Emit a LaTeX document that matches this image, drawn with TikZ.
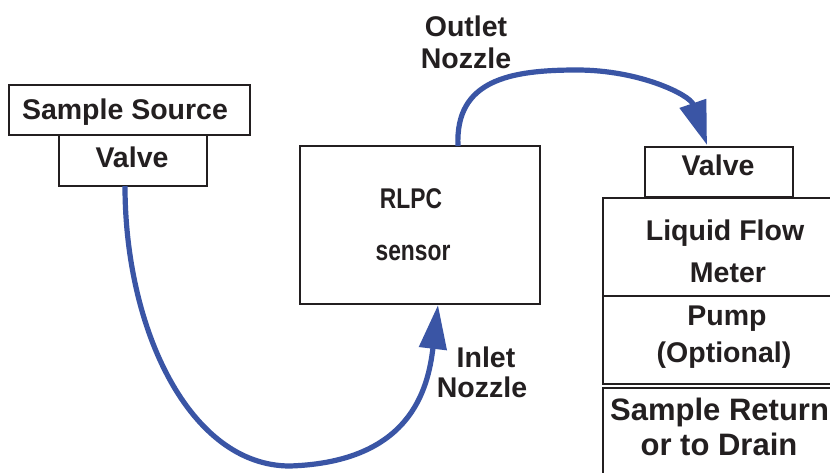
\documentclass[tikz,border=0pt]{standalone}
\usepackage{fontspec}
\setmainfont{Liberation Sans}
\newfontfamily\narrowfont[FakeStretch=0.8]{Liberation Sans}
\usetikzlibrary{arrows.meta}
\definecolor{ink}{HTML}{231F20}
\definecolor{pipe}{HTML}{3A55A5}
\tikzset{
  box/.style={draw=ink, line width=2pt, fill=none, inner sep=0pt, outer sep=0pt},
  lbl/.style={text=ink, inner sep=0pt, anchor=base, font=\fontsize{28.5}{32}\selectfont\bfseries},
  biglbl/.style={lbl, font=\fontsize{31}{34}\selectfont\bfseries},
  narrowlbl/.style={lbl, font=\fontsize{28.5}{32}\selectfont\narrowfont\bfseries},
  flow/.style={draw=pipe, line width=5.2pt, -{Triangle[length=44pt,width=27pt]}},
}
\begin{document}
\begin{tikzpicture}[x=1pt,y=-1pt]
\useasboundingbox[fill=white] (0,0) rectangle (830,472);

% source side
\node[box, minimum width=241pt, minimum height=50pt] (src) at (129.5,110) {};
\node[box, minimum width=148pt, minimum height=51pt] (valveA) at (133,160.5) {};
\node[lbl] (srcT) at (125,119) {Sample Source};
\node[lbl] (valveAT) at (132,167) {Valve};

% sensor
\node[box, minimum width=240pt, minimum height=158pt] (rlpc) at (420,225) {};
\node[narrowlbl] (rlpcT) at (411,208) {RLPC};
\node[narrowlbl] (sensT) at (413,260) {sensor};

% return side
\node[box, minimum width=148pt, minimum height=50pt] (valveB) at (719,172) {};
\node[lbl] (valveBT) at (718,175) {Valve};
\node[box, minimum width=260pt, minimum height=98pt] (meter) at (733,247) {};
\node[lbl] (meterT1) at (725,240) {Liquid Flow};
\node[lbl] (meterT2) at (728,282) {Meter};
\node[box, minimum width=260pt, minimum height=88pt] (pump) at (733,340) {};
\node[lbl] (pumpT1) at (727,325) {Pump};
\node[lbl] (pumpT2) at (724,362) {(Optional)};
\node[box, minimum width=260pt, minimum height=112pt] (ret) at (733,444) {};
\node[biglbl, anchor=base west] (retT1) at (610,420) {Sample Return};
\node[biglbl] (retT2) at (719,455) {or to Drain};

% nozzle labels
\node[lbl] (outT1) at (466,36) {Outlet};
\node[lbl] (outT2) at (466,68) {Nozzle};
\node[lbl] (inT1) at (486,367) {Inlet};
\node[lbl] (inT2) at (482,397) {Nozzle};

% tubing
\draw[flow] ([xshift=-8pt]valveA.south) .. controls (125,330) and (190,466) .. (290,466)
  .. controls (410,462) and (428,390) .. ([xshift=18pt,yshift=-1pt]rlpc.south);
\draw[flow] ([xshift=38pt]rlpc.north) .. controls (455,80) and (510,70) .. (577,70)
  .. controls (640,70) and (690,95) .. ([xshift=-12pt,yshift=2pt]valveB.north);
\end{tikzpicture}
\end{document}
